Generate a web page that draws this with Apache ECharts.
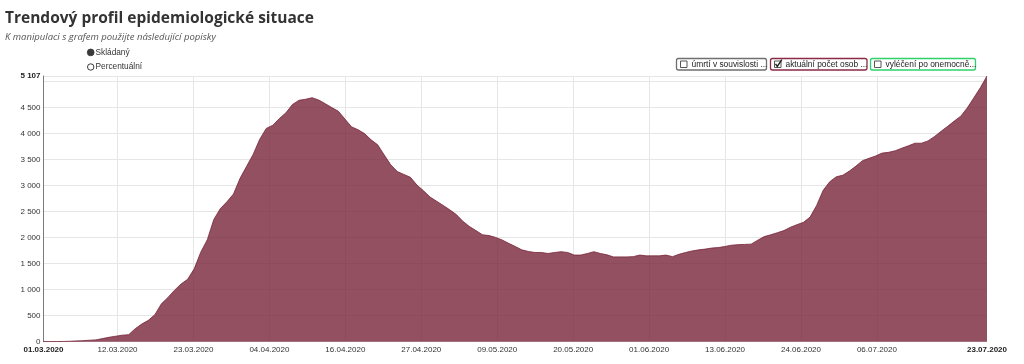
<!DOCTYPE html>
<html>
<head>
<meta charset="utf-8">
<script src="https://cdn.jsdelivr.net/npm/echarts@6/dist/echarts.min.js"></script>
<style>
html,body{margin:0;padding:0;background:#fff;}
#chart{width:1024px;height:364px;}
</style>
</head>
<body>
<div id="chart"></div>
<script>
// ---- data ----
const titleText = 'Trendový profil epidemiologické situace';
const subtitleText = 'K manipulaci s grafem použijte následující popisky';
const modeLabels = ['Skládaný', 'Percentuální'];
const legendLabels = ['úmrtí v souvislosti ...', 'aktuální počet osob ...', 'vyléčení po onemocně...'];
const startDate = '2020-03-01';
// aktuální počet osob (daily, 01.03.2020 – 23.07.2020)
const activeCases = [
  2, 2, 3, 5, 8, 15, 20, 28, 35, 60,
  85, 105, 125, 135, 250, 340, 410, 520, 730, 850,
  990, 1110, 1200, 1400, 1720, 1960, 2350, 2560, 2690, 2840,
  3140, 3370, 3600, 3890, 4100, 4160, 4290, 4400, 4560, 4640,
  4660, 4690, 4645, 4575, 4500, 4430, 4280, 4130, 4075, 4000,
  3880, 3785, 3590, 3400, 3270, 3215, 3160, 3010, 2900, 2780,
  2700, 2620, 2535, 2445, 2315, 2215, 2135, 2055, 2040, 2005,
  1955, 1890, 1830, 1765, 1735, 1715, 1715, 1695, 1715, 1730,
  1715, 1665, 1665, 1695, 1730, 1695, 1670, 1630, 1630, 1630,
  1635, 1665, 1650, 1650, 1650, 1665, 1635, 1680, 1715, 1745,
  1765, 1780, 1800, 1810, 1830, 1855, 1865, 1870, 1875, 1950,
  2020, 2055, 2095, 2135, 2200, 2250, 2295, 2395, 2620, 2910,
  3075, 3170, 3200, 3280, 3375, 3480, 3525, 3570, 3625, 3640,
  3670, 3720, 3765, 3815, 3815, 3860, 3945, 4045, 4140, 4240,
  4335, 4495, 4690, 4885, 5107
];
// x ticks of the original time axis: first tick offset and step, in days
const xTickFirstDay = 11.3;
const xTickStepDays = 11.59;
const xTickCount = 11;
const yTickStep = 500;

// ---- helpers ----
const DAY = 86400000;
const t0 = Date.parse(startDate + 'T00:00:00Z');
const lastDay = activeCases.length - 1;
const seriesData = activeCases.map((v, i) => [i, v]);
const xTicks = [];
for (let k = 0; k < xTickCount; k++) xTicks.push(xTickFirstDay + k * xTickStepDays);
const pad = n => (n < 10 ? '0' : '') + n;
const fmtDate = day => { const d = new Date(t0 + Math.floor(day + 1e-9) * DAY); return pad(d.getUTCDate()) + '.' + pad(d.getUTCMonth() + 1) + '.' + d.getUTCFullYear(); };
const fmtNum = v => String(v).replace(/\B(?=(\d{3})+(?!\d))/g, ' ');
const yMax = Math.max.apply(null, activeCases);

const labelFont = '"Liberation Sans", Arial, sans-serif';
const chart = echarts.init(document.getElementById('chart'), null, {renderer: 'canvas'});

const legendBoxes = [
  {x: 676, w: 90, color: '#6f6f6f', checked: false},
  {x: 770, w: 96.5, color: '#8a2a44', checked: true},
  {x: 870, w: 105, color: '#2fd16a', checked: false}
];
const graphics = [];
graphics.push({type: 'circle', shape: {cx: 90.7, cy: 52.4, r: 3.4}, style: {fill: '#3a3a3a', stroke: '#3a3a3a', lineWidth: 0.8}});
graphics.push({type: 'text', x: 95.5, y: 52.4, style: {text: modeLabels[0], font: '8.3px ' + labelFont, fill: '#333', verticalAlign: 'middle'}});
graphics.push({type: 'circle', shape: {cx: 90.7, cy: 67, r: 3.2}, style: {fill: '#fff', stroke: '#3a3a3a', lineWidth: 1}});
graphics.push({type: 'text', x: 95.5, y: 67, style: {text: modeLabels[1], font: '8.3px ' + labelFont, fill: '#333', verticalAlign: 'middle'}});
legendBoxes.forEach((b, i) => {
  graphics.push({type: 'rect', shape: {x: b.x + 0.5, y: 58.5, width: b.w, height: 11.5, r: 2}, style: {fill: '#fff', stroke: b.color, lineWidth: 1.3}});
  graphics.push({type: 'rect', shape: {x: b.x + 4.5, y: 61, width: 6.5, height: 6.5}, style: {fill: '#fff', stroke: '#444', lineWidth: 0.9}});
  if (b.checked) {
    graphics.push({type: 'polyline', shape: {points: [[b.x + 5.5, 63.8], [b.x + 7.3, 66.4], [b.x + 11.8, 59.6]]}, style: {stroke: '#222', lineWidth: 1.4, fill: null}});
  }
  graphics.push({type: 'text', x: b.x + 15.5, y: 64.3, style: {text: legendLabels[i], font: '8.4px ' + labelFont, fill: '#222', verticalAlign: 'middle'}});
});

chart.setOption({
  animation: false,
  backgroundColor: '#fff',
  title: {
    text: titleText,
    subtext: subtitleText,
    left: 0,
    top: 6,
    itemGap: 5,
    textStyle: {fontFamily: '"Open Sans", sans-serif', fontWeight: 'bold', fontSize: 15.5, color: '#333'},
    subtextStyle: {fontFamily: '"Open Sans", sans-serif', fontStyle: 'italic', fontSize: 9.5, color: '#555'}
  },
  graphic: graphics,
  grid: {left: 43.5, right: 37, top: 76, bottom: 22.3, containLabel: false},
  xAxis: {
    type: 'value',
    min: 0,
    max: lastDay,
    axisLine: {show: false},
    axisTick: {show: false, customValues: xTicks},
    splitLine: {show: true, lineStyle: {color: '#e6e6e6', width: 1}},
    axisLabel: {
      customValues: [0].concat(xTicks, [lastDay]),
      fontFamily: labelFont,
      fontSize: 8,
      color: '#333',
      margin: 4,
      formatter: v => (v === 0 || v === lastDay) ? '{b|' + fmtDate(v) + '}' : fmtDate(v),
      rich: {b: {fontWeight: 'bold', fontSize: 8, fontFamily: labelFont, color: '#222'}}
    }
  },
  yAxis: {
    type: 'value',
    min: 0,
    max: yMax,
    interval: yTickStep,
    axisLine: {show: true, lineStyle: {color: '#7a7a7a', width: 1}},
    axisTick: {show: false},
    splitLine: {show: true, lineStyle: {color: '#e6e6e6', width: 1}},
    axisLabel: {
      fontFamily: labelFont,
      fontSize: 8,
      color: '#333',
      margin: 3,
      formatter: v => {
        if (v === yMax) return '{b|' + fmtNum(v) + '}';
        if (yMax - v < yTickStep / 2) return '';
        return fmtNum(v);
      },
      rich: {b: {fontWeight: 'bold', fontSize: 8, fontFamily: labelFont, color: '#222'}}
    }
  },
  series: [{
    name: legendLabels[1],
    type: 'line',
    data: seriesData,
    showSymbol: false,
    smooth: false,
    lineStyle: {color: 'rgba(119,36,56,0.8)', width: 1},
    areaStyle: {color: 'rgba(119,36,56,0.8)', opacity: 1}
  }]
});
</script>
</body>
</html>
